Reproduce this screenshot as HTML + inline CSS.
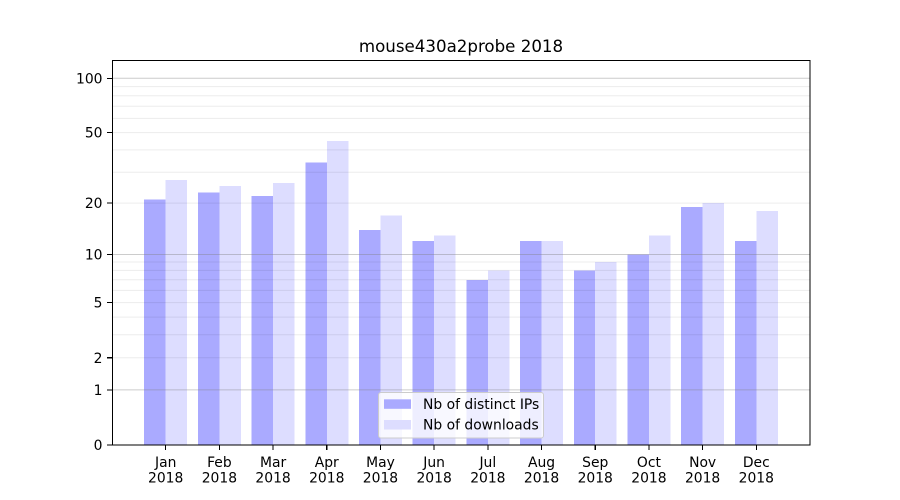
<!DOCTYPE html>
<html>
<head>
<meta charset="utf-8">
<style>
html,body{margin:0;padding:0;background:#fff;}
svg{display:block;}
text{font-family:"DejaVu Sans","Liberation Sans",sans-serif;fill:#000;}
</style>
</head>
<body>
<svg width="900" height="500" viewBox="0 0 900 500" xmlns="http://www.w3.org/2000/svg">
<rect x="0" y="0" width="900" height="500" fill="#fff"/>
<!-- bars -->
<g shape-rendering="crispEdges">
<rect x="144.21" y="199.4" width="21.48" height="245.6" fill="#aaaaff"/>
<rect x="165.69" y="180.2" width="21.48" height="264.8" fill="#ddddff"/>
<rect x="197.90" y="192.5" width="21.48" height="252.5" fill="#aaaaff"/>
<rect x="219.38" y="186.1" width="21.48" height="258.9" fill="#ddddff"/>
<rect x="251.60" y="195.9" width="21.48" height="249.1" fill="#aaaaff"/>
<rect x="273.08" y="183.1" width="21.48" height="261.9" fill="#ddddff"/>
<rect x="305.29" y="162.5" width="21.48" height="282.5" fill="#aaaaff"/>
<rect x="326.77" y="140.8" width="21.48" height="304.2" fill="#ddddff"/>
<rect x="358.98" y="229.8" width="21.48" height="215.2" fill="#aaaaff"/>
<rect x="380.46" y="215.3" width="21.48" height="229.7" fill="#ddddff"/>
<rect x="412.67" y="241.2" width="21.48" height="203.8" fill="#aaaaff"/>
<rect x="434.15" y="235.3" width="21.48" height="209.7" fill="#ddddff"/>
<rect x="466.37" y="279.8" width="21.48" height="165.2" fill="#aaaaff"/>
<rect x="487.85" y="270.4" width="21.48" height="174.6" fill="#ddddff"/>
<rect x="520.06" y="241.2" width="21.48" height="203.8" fill="#aaaaff"/>
<rect x="541.54" y="241.2" width="21.48" height="203.8" fill="#ddddff"/>
<rect x="573.75" y="270.4" width="21.48" height="174.6" fill="#aaaaff"/>
<rect x="595.23" y="262.05" width="21.48" height="182.95" fill="#ddddff"/>
<rect x="627.44" y="254.5" width="21.48" height="190.5" fill="#aaaaff"/>
<rect x="648.92" y="235.3" width="21.48" height="209.7" fill="#ddddff"/>
<rect x="681.14" y="207.0" width="21.48" height="238.0" fill="#aaaaff"/>
<rect x="702.62" y="203.1" width="21.48" height="241.9" fill="#ddddff"/>
<rect x="734.83" y="241.2" width="21.48" height="203.8" fill="#aaaaff"/>
<rect x="756.31" y="211.0" width="21.48" height="234.0" fill="#ddddff"/>
</g>
<!-- minor grid -->
<g stroke="#000" stroke-opacity="0.075" stroke-width="1">
<line x1="112" x2="810" y1="357.7" y2="357.7"/>
<line x1="112" x2="810" y1="334.8" y2="334.8"/>
<line x1="112" x2="810" y1="317.1" y2="317.1"/>
<line x1="112" x2="810" y1="302.6" y2="302.6"/>
<line x1="112" x2="810" y1="290.4" y2="290.4"/>
<line x1="112" x2="810" y1="279.8" y2="279.8"/>
<line x1="112" x2="810" y1="270.4" y2="270.4"/>
<line x1="112" x2="810" y1="262.05" y2="262.05"/>
<line x1="112" x2="810" y1="203.1" y2="203.1"/>
<line x1="112" x2="810" y1="172.2" y2="172.2"/>
<line x1="112" x2="810" y1="149.9" y2="149.9"/>
<line x1="112" x2="810" y1="132.6" y2="132.6"/>
<line x1="112" x2="810" y1="118.4" y2="118.4"/>
<line x1="112" x2="810" y1="106.3" y2="106.3"/>
<line x1="112" x2="810" y1="95.8" y2="95.8"/>
<line x1="112" x2="810" y1="86.6" y2="86.6"/>
</g>
<!-- major grid -->
<g stroke="#808080" stroke-opacity="0.4" stroke-width="1">
<line x1="112" x2="810" y1="389.9" y2="389.9"/>
<line x1="112" x2="810" y1="254.5" y2="254.5"/>
<line x1="112" x2="810" y1="78.3" y2="78.3"/>
</g>
<!-- axes frame -->
<rect x="112.5" y="60.5" width="697.5" height="384.5" fill="none" stroke="#000" stroke-width="1.1" shape-rendering="crispEdges"/>
<!-- y ticks -->
<g stroke="#000" stroke-width="1.1" shape-rendering="crispEdges">
<line x1="107" x2="112" y1="445" y2="445"/>
<line x1="107" x2="112" y1="389.9" y2="389.9"/>
<line x1="107" x2="112" y1="357.7" y2="357.7"/>
<line x1="107" x2="112" y1="302.6" y2="302.6"/>
<line x1="107" x2="112" y1="254.5" y2="254.5"/>
<line x1="107" x2="112" y1="203.1" y2="203.1"/>
<line x1="107" x2="112" y1="132.6" y2="132.6"/>
<line x1="107" x2="112" y1="78.3" y2="78.3"/>
</g>
<g font-size="13.89" text-anchor="end">
<text x="102.5" y="450">0</text>
<text x="102.5" y="395">1</text>
<text x="102.5" y="362.8">2</text>
<text x="102.5" y="307.7">5</text>
<text x="102.5" y="259.6">10</text>
<text x="102.5" y="208.2">20</text>
<text x="102.5" y="137.7">50</text>
<text x="102.5" y="83.4">100</text>
</g>
<!-- x ticks -->
<g stroke="#000" stroke-width="1.1" shape-rendering="crispEdges">
<line x1="165.69" x2="165.69" y1="445" y2="450"/>
<line x1="219.38" x2="219.38" y1="445" y2="450"/>
<line x1="273.08" x2="273.08" y1="445" y2="450"/>
<line x1="326.77" x2="326.77" y1="445" y2="450"/>
<line x1="380.46" x2="380.46" y1="445" y2="450"/>
<line x1="434.15" x2="434.15" y1="445" y2="450"/>
<line x1="487.85" x2="487.85" y1="445" y2="450"/>
<line x1="541.54" x2="541.54" y1="445" y2="450"/>
<line x1="595.23" x2="595.23" y1="445" y2="450"/>
<line x1="648.92" x2="648.92" y1="445" y2="450"/>
<line x1="702.62" x2="702.62" y1="445" y2="450"/>
<line x1="756.31" x2="756.31" y1="445" y2="450"/>
</g>
<g font-size="13.89" text-anchor="middle">
<text x="165.69" y="467">Jan</text><text x="165.69" y="482.5">2018</text>
<text x="219.38" y="467">Feb</text><text x="219.38" y="482.5">2018</text>
<text x="273.08" y="467">Mar</text><text x="273.08" y="482.5">2018</text>
<text x="326.77" y="467">Apr</text><text x="326.77" y="482.5">2018</text>
<text x="380.46" y="467">May</text><text x="380.46" y="482.5">2018</text>
<text x="434.15" y="467">Jun</text><text x="434.15" y="482.5">2018</text>
<text x="487.85" y="467">Jul</text><text x="487.85" y="482.5">2018</text>
<text x="541.54" y="467">Aug</text><text x="541.54" y="482.5">2018</text>
<text x="595.23" y="467">Sep</text><text x="595.23" y="482.5">2018</text>
<text x="648.92" y="467">Oct</text><text x="648.92" y="482.5">2018</text>
<text x="702.62" y="467">Nov</text><text x="702.62" y="482.5">2018</text>
<text x="756.31" y="467">Dec</text><text x="756.31" y="482.5">2018</text>
</g>
<!-- title -->
<text x="461" y="52" font-size="16.67" text-anchor="middle">mouse430a2probe 2018</text>
<!-- legend -->
<rect x="378.5" y="392.5" width="165" height="45.5" rx="2.5" ry="2.5" fill="#fff" fill-opacity="0.8" stroke="#cccccc" stroke-width="1"/>
<rect x="384" y="399.3" width="27" height="9.5" fill="#aaaaff"/>
<rect x="384" y="420" width="27" height="9.5" fill="#ddddff"/>
<g font-size="13.89">
<text x="423" y="409">Nb of distinct IPs</text>
<text x="423" y="429.5">Nb of downloads</text>
</g>
</svg>
</body>
</html>
